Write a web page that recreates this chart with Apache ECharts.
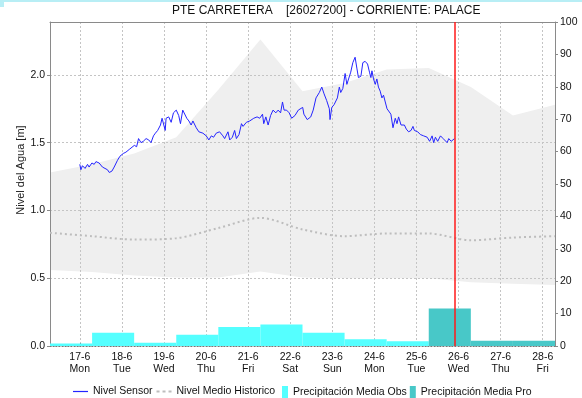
<!DOCTYPE html>
<html>
<head>
<meta charset="utf-8">
<script src="https://cdn.jsdelivr.net/npm/echarts@6/dist/echarts.min.js"></script>
<style>
  html, body { margin: 0; padding: 0; background: #fff; }
  #chart { width: 582px; height: 398px; }
</style>
</head>
<body>
<div id="chart"></div>
<script>
// Hours are counted from 17-6 00:00.
const dayLabels = ['17-6', '18-6', '19-6', '20-6', '21-6', '22-6', '23-6', '24-6', '25-6', '26-6', '27-6', '28-6'];
const weekDays = ['Mon', 'Tue', 'Wed', 'Thu', 'Fri', 'Sat', 'Sun', 'Mon', 'Tue', 'Wed', 'Thu', 'Fri'];
const dayHours = [0, 24, 48, 72, 96, 120, 144, 168, 192, 216, 240, 264];

// Sensor water level [m]
const sensorHours = [
  0, 0.6, 1.5, 3.0, 4.4, 5.3, 6.9, 8.2, 9.2, 11.0, 12.9, 15.8, 16.8, 18.3, 19.6, 21.5, 22.9, 23.5,
  24.8, 26.3, 28.2, 29.2, 31.1, 32.4, 33.5, 34.9, 36.2, 37.8, 39.3, 40.6, 42.0, 43.1, 44.4, 46.0, 46.9, 47.7,
  48.7, 49.2, 50.7, 52.1, 53.4, 55.0, 56.4, 57.4, 58.7, 59.7, 61.0, 62.2, 63.5, 64.5, 66.4, 67.9,
  70.2, 72.1, 73.6, 75.0, 76.3, 77.8, 79.7, 81.6, 82.6, 84.5, 85.5, 87.0, 88.3, 89.3, 90.8, 92.2, 93.1, 95.0,
  96.9, 99.2, 101.1, 102.6, 104.2, 104.9, 106.1, 107.4, 108.8, 110.2, 111.8, 113.1, 114.5, 115.6, 116.5, 117.9, 119.4,
  120.8, 122.7, 124.6, 127.1, 127.8, 129.7, 131.7, 133.1, 134.7, 136.6, 138.0, 139.3, 140.8, 142.3, 142.7, 143.7,
  145.0, 146.1, 146.9, 148.0, 148.8, 150.0, 151.3, 152.3, 153.2, 154.5, 155.7, 157.0, 158.0, 158.9, 160.3, 161.4,
  162.7, 164.1, 165.2, 166.0, 166.6, 167.5, 168.5, 169.4, 170.3, 171.3, 172.3, 173.2, 174.2, 175.2, 176.1, 177.4,
  178.6, 179.9, 180.9, 181.8, 183.2, 184.3, 185.1, 186.2, 187.5, 188.9, 190.0, 190.8, 191.9, 192.7, 194.2, 196.1,
  198.1, 199.5, 200.9, 201.8, 202.8, 204.1, 205.7, 207.2, 208.0, 209.5, 210.4, 211.8, 212.9, 213.7
];
const sensorLevel = [
  1.34, 1.30, 1.33, 1.31, 1.34, 1.32, 1.35, 1.34, 1.36, 1.35, 1.32, 1.30, 1.28, 1.29, 1.32, 1.37, 1.40, 1.39,
  1.42, 1.43, 1.45, 1.44, 1.48, 1.47, 1.53, 1.50, 1.51, 1.53, 1.52, 1.50, 1.55, 1.57, 1.59, 1.63, 1.68, 1.69,
  1.59, 1.68, 1.69, 1.65, 1.72, 1.74, 1.70, 1.64, 1.74, 1.74, 1.68, 1.66, 1.63, 1.66, 1.61, 1.58,
  1.57, 1.55, 1.52, 1.55, 1.54, 1.57, 1.58, 1.55, 1.53, 1.58, 1.52, 1.54, 1.59, 1.53, 1.56, 1.64, 1.62, 1.65,
  1.66, 1.68, 1.69, 1.68, 1.71, 1.64, 1.69, 1.63, 1.70, 1.74, 1.72, 1.74, 1.72, 1.80, 1.74, 1.74, 1.72,
  1.68, 1.70, 1.74, 1.76, 1.71, 1.67, 1.69, 1.74, 1.83, 1.87, 1.91, 1.86, 1.81, 1.75, 1.67, 1.76,
  1.78, 1.77, 1.83, 1.91, 1.87, 1.90, 2.01, 1.93, 1.93, 2.02, 2.09, 2.13, 2.05, 1.98, 1.99, 2.09,
  2.10, 2.08, 2.02, 1.98, 2.03, 1.97, 1.93, 1.97, 1.91, 1.88, 1.83, 1.85, 1.80, 1.75, 1.76, 1.71,
  1.61, 1.68, 1.64, 1.69, 1.63, 1.62, 1.63, 1.60, 1.58, 1.59, 1.62, 1.59, 1.60, 1.58, 1.56, 1.55,
  1.54, 1.51, 1.55, 1.50, 1.54, 1.51, 1.55, 1.53, 1.54, 1.50, 1.53, 1.51, 1.52, 1.53
];

// Historic statistics, one value per hydrological day (07:00)
const histHours = [-17, 7, 31, 55, 79, 103, 127, 151, 175, 199, 223, 247, 271];
const histUpper = [1.28, 1.34, 1.42, 1.54, 1.89, 2.26, 1.88, 1.94, 2.04, 2.05, 1.91, 1.70, 1.78];
const histLower = [0.56, 0.545, 0.52, 0.505, 0.505, 0.55, 0.505, 0.50, 0.50, 0.50, 0.47, 0.46, 0.45];
const histMean  = [0.835, 0.81, 0.785, 0.795, 0.87, 0.945, 0.86, 0.81, 0.83, 0.83, 0.78, 0.80, 0.81];

// Daily precipitation [mm], each block from 07:00 to 07:00
const obsStart = [-17, 7, 31, 55, 79, 103, 127, 151, 175];
const obsValue = [0.8, 4.1, 1.0, 3.5, 5.9, 6.6, 4.1, 2.1, 1.5];
const proStart = [199, 223, 247];
const proValue = [11.6, 1.6, 1.6];

const nowHour = 214;

const FONT = 'Liberation Sans';
const gridColor = '#c4c4c4';
const frameColor = '#8a8a8a';
const sensorColor = '#2424ff';
const meanColor = '#bdbdbd';
const obsColor = '#55ffff';
const proColor = '#48c8c8';

function blocks(starts, values) {
  return starts.map((s, i) => [s, s + 24, values[i]]);
}

function renderBlock(params, api) {
  const a = api.coord([api.value(0), api.value(2)]);
  const b = api.coord([api.value(1), 0]);
  const cs = params.coordSys;
  const shape = echarts.graphic.clipRectByRect(
    { x: a[0], y: a[1], width: b[0] - a[0], height: b[1] - a[1] },
    { x: cs.x, y: cs.y, width: cs.width, height: cs.height }
  );
  return shape && { type: 'rect', shape: shape, style: api.style() };
}

function renderBand(params, api) {
  if (params.dataIndex !== 0) return;
  const pts = [];
  for (let i = 0; i < histHours.length; i++) pts.push(api.coord([histHours[i], histUpper[i]]));
  for (let i = histHours.length - 1; i >= 0; i--) pts.push(api.coord([histHours[i], histLower[i]]));
  return { type: 'polygon', shape: { points: pts }, style: { fill: '#efefef' } };
}

const legendText = { fontFamily: FONT, fontSize: 10.5, color: '#111' };

const chart = echarts.init(document.getElementById('chart'), null, { renderer: 'canvas' });

chart.setOption({
  animation: false,
  backgroundColor: '#ffffff',
  textStyle: { fontFamily: FONT },
  title: {
    text: 'PTE CARRETERA    [26027200] - CORRIENTE: PALACE',
    left: 172, top: 5, padding: 0,
    textStyle: { fontFamily: FONT, fontSize: 12, fontWeight: 'normal', color: '#111' }
  },
  graphic: [
    { type: 'rect', left: 0, top: 0, shape: { width: 582, height: 2 }, style: { fill: '#b8eef5' }, silent: true },
    { type: 'rect', left: 0, top: 0, shape: { width: 4, height: 7 }, style: { fill: '#b8eef5' }, silent: true }
  ],
  grid: { left: 50, right: 27, top: 22, bottom: 52, containLabel: false },
  legend: [
    {
      left: 73, top: 386, padding: 0,
      itemWidth: 15, itemHeight: 12, itemGap: 4,
      textStyle: legendText,
      data: [
        { name: 'Nivel Sensor', icon: 'path://M0,0h15v1.2h-15z' },
        { name: 'Nivel Medio Historico', icon: 'path://M0,0h3v2h-3zM6,0h3v2h-3zM12,0h3v2h-3z' }
      ]
    },
    {
      left: 282, top: 386, padding: 0,
      itemWidth: 6, itemHeight: 12, itemGap: 3,
      textStyle: legendText,
      data: [
        { name: 'Precipitación Media Obs', icon: 'rect' },
        { name: 'Precipitación Media Pro', icon: 'rect' }
      ]
    }
  ],
  xAxis: [
    {
      type: 'value', min: -17, max: 271, position: 'bottom',
      axisLine: { show: true, onZero: false, lineStyle: { color: '#777', type: [1, 2] } },
      axisTick: { show: true, customValues: dayHours, inside: true, length: 3, lineStyle: { color: '#777' } },
      axisLabel: {
        customValues: dayHours, margin: 5, color: '#111', fontSize: 10.5, lineHeight: 12, fontFamily: FONT,
        formatter: v => { const i = Math.round(v / 24); return dayLabels[i] + '\n' + weekDays[i]; }
      },
      splitLine: { show: true, lineStyle: { color: gridColor, type: [2, 2] } }
    },
    {
      type: 'value', min: -17, max: 271, position: 'top',
      axisLine: { show: true, onZero: false, lineStyle: { color: frameColor } },
      axisTick: { show: false }, axisLabel: { show: false }, splitLine: { show: false }
    }
  ],
  yAxis: [
    {
      type: 'value', min: 0, max: 2.39, interval: 0.5, position: 'left',
      name: 'Nivel del Agua [m]', nameLocation: 'middle', nameGap: 24, nameMoveOverlap: false,
      nameTextStyle: { fontFamily: FONT, fontSize: 11, color: '#222', padding: [0, 0, 0, 28] },
      axisLine: { show: true, onZero: false, lineStyle: { color: frameColor } },
      axisTick: { show: true, length: 3, lineStyle: { color: frameColor } },
      axisLabel: { margin: 5, color: '#111', fontSize: 10.5, fontFamily: FONT, showMaxLabel: false, formatter: v => v.toFixed(1) },
      splitLine: { show: true, lineStyle: { color: gridColor, type: [2, 2] } }
    },
    {
      type: 'value', min: 0, max: 100, interval: 10, position: 'right',
      axisLine: { show: true, onZero: false, lineStyle: { color: frameColor } },
      axisTick: { show: true, length: 3, lineStyle: { color: frameColor } },
      axisLabel: { margin: 5, color: '#111', fontSize: 10.5, fontFamily: FONT },
      splitLine: { show: false }
    }
  ],
  series: [
    {
      name: 'Banda Historica', type: 'custom', z: -1, silent: true,
      renderItem: renderBand,
      data: histHours.map((h, i) => [h, histLower[i], histUpper[i]]),
      encode: { x: 0, y: [1, 2] }
    },
    {
      name: 'Precipitación Media Obs', type: 'custom', yAxisIndex: 1,
      renderItem: renderBlock,
      itemStyle: { color: obsColor },
      data: blocks(obsStart, obsValue),
      encode: { x: [0, 1], y: 2 }
    },
    {
      name: 'Precipitación Media Pro', type: 'custom', yAxisIndex: 1,
      renderItem: renderBlock,
      itemStyle: { color: proColor },
      data: blocks(proStart, proValue),
      encode: { x: [0, 1], y: 2 }
    },
    {
      name: 'Nivel Medio Historico', type: 'line', smooth: 0.3,
      symbol: 'none', showSymbol: false,
      itemStyle: { color: meanColor },
      lineStyle: { color: meanColor, width: 2, type: [2, 3] },
      data: histHours.map((h, i) => [h, histMean[i]])
    },
    {
      name: 'Nivel Sensor', type: 'line',
      symbol: 'none', showSymbol: false,
      itemStyle: { color: sensorColor },
      lineStyle: { color: sensorColor, width: 1 },
      data: sensorHours.map((h, i) => [h, sensorLevel[i]]),
      markLine: {
        silent: true, symbol: 'none', label: { show: false },
        lineStyle: { color: '#ff1a1a', width: 1.5, type: 'solid' },
        data: [{ xAxis: nowHour }]
      }
    }
  ]
});
</script>
</body>
</html>
